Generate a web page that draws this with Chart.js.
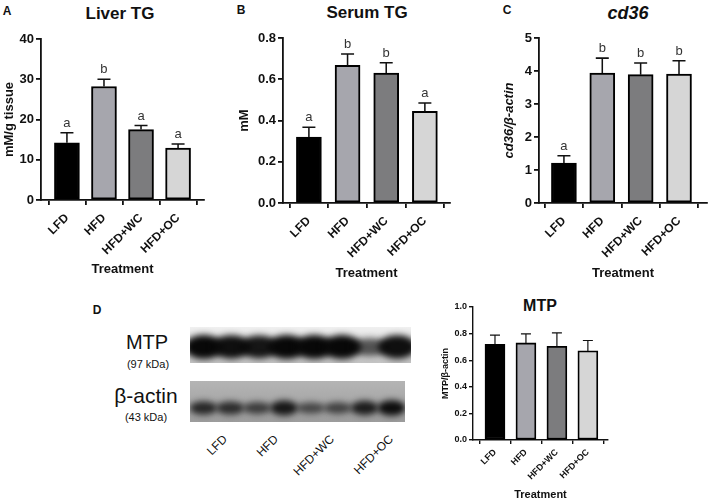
<!DOCTYPE html>
<html>
<head>
<meta charset="utf-8">
<script src="https://cdn.jsdelivr.net/npm/chart.js@4.4.1/dist/chart.umd.min.js"></script>
<style>
body{margin:0;width:708px;height:502px;position:relative;overflow:hidden;background:#fff;font-family:"Liberation Sans",Arial,sans-serif;color:#111}
canvas{position:absolute}
.t{position:absolute;transform:translate(-50%,-50%);white-space:nowrap}
.lane{position:absolute;white-space:nowrap;font-size:12px;transform-origin:100% 50%;transform:translate(-100%,-50%) rotate(-45deg)}
</style>
</head>
<body>
<div class="t" style="left:7px;top:11px;font-weight:bold;font-size:12px">A</div>
<div class="t" style="left:241px;top:10px;font-weight:bold;font-size:12px">B</div>
<div class="t" style="left:507px;top:10px;font-weight:bold;font-size:12px">C</div>
<div class="t" style="left:97px;top:310px;font-weight:bold;font-size:12px">D</div>
<div class="t" style="left:120px;top:14px;font-weight:bold;font-size:17px">Liver TG</div>
<div class="t" style="left:367px;top:13px;font-weight:bold;font-size:17px">Serum TG</div>
<div class="t" style="left:628px;top:13px;font-weight:bold;font-style:italic;font-size:18px">cd36</div>
<div class="t" style="left:540px;top:306px;font-weight:bold;font-size:16px">MTP</div>

<div class="t" style="left:147px;top:342px;font-size:20px">MTP</div>
<div class="t" style="left:148px;top:364px;font-size:11px">(97 kDa)</div>
<div class="t" style="left:146px;top:396px;font-size:21px">β-actin</div>
<div class="t" style="left:146px;top:417px;font-size:11px">(43 kDa)</div>
<div class="lane" style="left:225px;top:437px">LFD</div>
<div class="lane" style="left:276px;top:437px">HFD</div>
<div class="lane" style="left:332px;top:437px">HFD+WC</div>
<div class="lane" style="left:391px;top:437px">HFD+OC</div>

<canvas id="chartA" width="240" height="285" style="left:0;top:0"></canvas>
<canvas id="chartB" width="240" height="285" style="left:230px;top:0"></canvas>
<canvas id="chartC" width="248" height="285" style="left:460px;top:0"></canvas>
<canvas id="chartD" width="200" height="212" style="left:440px;top:290px"></canvas>
<canvas id="blot" width="221" height="96" style="left:190px;top:327px"></canvas>

<script>
// groups and values (mean, SEM and significance letters)
var groups = ["LFD", "HFD", "HFD+WC", "HFD+OC"];

var liverTG = [14.2, 28.2, 17.5, 12.9];
var liverTGErr = [2.5, 1.8, 1.0, 1.0];
var liverTGSig = ["a", "b", "a", "a"];
var liverTicks = [0, 10, 20, 30, 40];

var serumTG = [0.32, 0.667, 0.63, 0.444];
var serumTGErr = [0.047, 0.055, 0.05, 0.041];
var serumTGSig = ["a", "b", "b", "a"];
var serumTicks = [0, 0.2, 0.4, 0.6, 0.8];

var cd36 = [1.21, 3.94, 3.89, 3.91];
var cd36Err = [0.22, 0.45, 0.35, 0.4];
var cd36Sig = ["a", "b", "b", "b"];
var cd36Ticks = [0, 1, 2, 3, 4, 5];

var mtp = [0.72, 0.73, 0.705, 0.67];
var mtpErr = [0.068, 0.068, 0.1, 0.078];
var mtpTicks = [0, 0.2, 0.4, 0.6, 0.8, 1.0];

// blot band darkness per lane (2 lanes per group)
var mtpBand = [1.0, 0.95, 0.9, 1.0, 1.0, 1.0, 0.45, 0.95];
var actinBand = [0.7, 0.65, 0.5, 0.85, 0.4, 0.45, 0.8, 0.95];

var barColors = ["#000000", "#a6a6ad", "#7c7c7e", "#d6d6d6"];
var ink = "#111";

var errPlugin = {
  id: "errbars",
  afterDatasetsDraw: function(chart) {
    var ds = chart.data.datasets[0];
    var meta = chart.getDatasetMeta(0);
    var y = chart.scales.y;
    var ctx = chart.ctx;
    ctx.save();
    meta.data.forEach(function(bar, i) {
      var top = y.getPixelForValue(ds.vals[i] + ds.errs[i]);
      var base = y.getPixelForValue(ds.vals[i]);
      ctx.strokeStyle = ink;
      ctx.lineWidth = ds.errW;
      ctx.beginPath();
      ctx.moveTo(bar.x, base);
      ctx.lineTo(bar.x, top);
      ctx.moveTo(bar.x - ds.cap, top);
      ctx.lineTo(bar.x + ds.cap, top);
      ctx.stroke();
      if (ds.sig) {
        ctx.fillStyle = "#333";
        ctx.font = ds.sigFont;
        ctx.textAlign = "center";
        ctx.textBaseline = "bottom";
        ctx.fillText(ds.sig[i], bar.x, top - 3);
      }
    });
    ctx.restore();
  }
};

function font(size, style) {
  return {family: "'Liberation Sans', Arial, sans-serif", size: size, weight: "bold", style: style || "normal"};
}

function makeChart(id, p) {
  return new Chart(document.getElementById(id), {
    type: "bar",
    data: {
      datasets: [{
        data: p.vals.map(function(v, i) { return {x: i, y: v}; }),
        vals: p.vals, errs: p.errs, sig: p.sig,
        errW: p.lw * 0.85, cap: p.cap, sigFont: p.sigFont,
        backgroundColor: barColors,
        borderColor: "#000",
        borderWidth: p.bw,
        borderSkipped: false,
        barThickness: p.barW
      }]
    },
    options: {
      responsive: false,
      animation: false,
      layout: {padding: p.pad},
      plugins: {legend: {display: false}, tooltip: {enabled: false}},
      scales: {
        x: {
          type: "linear", min: p.xmin, max: p.xmax, offset: false,
          afterBuildTicks: function(s) { s.ticks = groups.map(function(g, i) { return {value: i}; }); },
          afterFit: function(s) { s.height = p.xh; },
          ticks: {autoSkip: false, minRotation: 45, maxRotation: 45, padding: p.xpad, color: ink, font: font(p.xfs),
                  callback: function(v) { return groups[v]; }},
          grid: {drawOnChartArea: false, drawTicks: true, tickLength: p.tl, color: ink, lineWidth: p.lw},
          border: {color: ink, width: p.lw},
          title: {display: true, text: "Treatment", color: ink, font: font(p.tfs), padding: {top: 0, bottom: p.tpad}}
        },
        y: {
          min: 0, max: p.ticks[p.ticks.length - 1],
          afterBuildTicks: function(s) { s.ticks = p.ticks.map(function(v) { return {value: v}; }); },
          afterFit: function(s) { s.width = p.yw; },
          ticks: {padding: 2, color: ink, font: font(p.yfs), callback: function(v) { return v.toFixed(p.dec); }},
          grid: {drawOnChartArea: false, drawTicks: true, tickLength: p.tl, color: ink, lineWidth: p.lw},
          border: {color: ink, width: p.lw},
          title: {display: true, text: p.ytitle, color: ink, font: font(p.yts, p.ytStyle), padding: {top: p.ytpad, bottom: 0}}
        }
      }
    },
    plugins: [errPlugin]
  });
}

makeChart("chartA", {vals: liverTG, errs: liverTGErr, sig: liverTGSig, ticks: liverTicks, dec: 0,
  pad: {left: 0, top: 39, right: 36, bottom: 0}, yw: 41, xh: 85, xmin: -0.7, xmax: 3.7,
  barW: 25, bw: 2, lw: 1.8, tl: 5, cap: 6.5, sigFont: "13px 'Liberation Sans', Arial",
  xfs: 12, xpad: 6, tfs: 13, tpad: 8, yfs: 13, ytitle: "mM/g tissue", yts: 13, ytpad: 2});

makeChart("chartB", {vals: serumTG, errs: serumTGErr, sig: serumTGSig, ticks: serumTicks, dec: 1,
  pad: {left: 0, top: 38, right: 20, bottom: 0}, yw: 53, xh: 82, xmin: -0.67, xmax: 3.65,
  barW: 25, bw: 2, lw: 1.8, tl: 5, cap: 6.5, sigFont: "13px 'Liberation Sans', Arial",
  xfs: 12, xpad: 6, tfs: 13, tpad: 4, yfs: 13, ytitle: "mM", yts: 13, ytpad: 7});

makeChart("chartC", {vals: cd36, errs: cd36Err, sig: cd36Sig, ticks: cd36Ticks, dec: 0,
  pad: {left: 0, top: 38, right: 1, bottom: 0}, yw: 79, xh: 82, xmin: -0.65, xmax: 3.73,
  barW: 25, bw: 2, lw: 1.8, tl: 5, cap: 6.5, sigFont: "13px 'Liberation Sans', Arial",
  xfs: 12, xpad: 6, tfs: 13, tpad: 4, yfs: 13, ytitle: "cd36/β-actin", yts: 13, ytStyle: "italic", ytpad: 42});

makeChart("chartD", {vals: mtp, errs: mtpErr, sig: null, ticks: mtpTicks, dec: 1,
  pad: {left: 0, top: 17, right: 32, bottom: 0}, yw: 33, xh: 62, xmin: -0.71, xmax: 3.65,
  barW: 20, bw: 1.8, lw: 1.4, tl: 4, cap: 5, sigFont: "",
  xfs: 9, xpad: 3, tfs: 11, tpad: 0, yfs: 9, ytitle: "MTP/β-actin", yts: 9, ytpad: 0});

// western blot picture (photo-like, not data driven by scales)
function drawBlot() {
  var ctx = document.getElementById("blot").getContext("2d");
  function strip(y0, h, w, c0, c1, bands, cy, ry, rx) {
    var g = ctx.createLinearGradient(0, y0, 0, y0 + h);
    g.addColorStop(0, c0);
    g.addColorStop(1, c1);
    ctx.fillStyle = g;
    ctx.fillRect(0, y0, w, h);
    ctx.save();
    ctx.beginPath();
    ctx.rect(0, y0, w, h);
    ctx.clip();
    ctx.filter = "blur(3px)";
    var step = w / bands.length;
    bands.forEach(function(a, i) {
      ctx.fillStyle = "rgba(8,8,8," + (0.35 + 0.65 * a) + ")";
      ctx.beginPath();
      ctx.ellipse(step * (i + 0.5), y0 + cy, rx, ry * (0.5 + 0.5 * a), 0, 0, Math.PI * 2);
      ctx.fill();
    });
    ctx.restore();
  }
  strip(0, 36, 221, "#f0f0f0", "#c4c4c4", mtpBand, 20, 12, 19);
  strip(54, 41, 215, "#b4b4b4", "#9c9c9c", actinBand, 27, 8, 14);
}
drawBlot();
</script>
</body>
</html>
